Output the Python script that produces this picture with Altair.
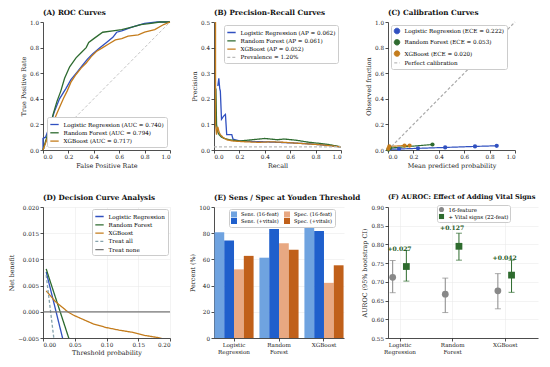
import altair as alt
import pandas as pd

# ------------------------------------------------------------------ data
MODELS = ["Logistic Regression", "Random Forest", "XGBoost"]
AUC_LABELS = ["0.740", "0.794", "0.717"]
AP_LABELS = ["0.062", "0.061", "0.052"]
ECE_LABELS = ["0.222", "0.053", "0.020"]
PREVALENCE = 0.012
PREV_LABEL = "Prevalence = 1.20%"

# (A) ROC
LR_FPR = [0, 0, 0.02, 0.05, 0.09, 0.13, 0.18, 0.22, 0.27, 0.31, 0.35, 0.39, 0.45, 0.50, 0.55, 0.58, 0.62, 0.70, 0.80, 0.90, 1.0]
LR_TPR = [0, 0.09, 0.10, 0.18, 0.30, 0.40, 0.48, 0.55, 0.61, 0.66, 0.71, 0.75, 0.80, 0.84, 0.88, 0.92, 0.93, 0.96, 0.99, 1.0, 1.0]
RF_FPR = [0, 0.03, 0.06, 0.08, 0.11, 0.14, 0.17, 0.21, 0.26, 0.30, 0.34, 0.36, 0.40, 0.47, 0.55, 0.62, 0.70, 0.77, 0.85, 0.92, 1.0]
RF_TPR = [0, 0.10, 0.20, 0.28, 0.38, 0.46, 0.56, 0.65, 0.72, 0.76, 0.80, 0.84, 0.87, 0.92, 0.93, 0.94, 0.96, 0.98, 0.99, 1.0, 1.0]
XGB_FPR = [0, 0.03, 0.06, 0.09, 0.12, 0.16, 0.19, 0.22, 0.26, 0.30, 0.34, 0.38, 0.42, 0.47, 0.52, 0.57, 0.62, 0.67, 0.75, 0.80, 0.88, 0.95, 1.0]
XGB_TPR = [0, 0.08, 0.16, 0.24, 0.31, 0.40, 0.46, 0.53, 0.59, 0.64, 0.68, 0.73, 0.77, 0.80, 0.83, 0.86, 0.87, 0.89, 0.90, 0.92, 0.94, 0.98, 1.0]

# (B) Precision-recall
LR_REC = [0.03, 0.038, 0.045, 0.05, 0.059, 0.077, 0.09, 0.10, 0.12, 0.14, 0.15, 0.20, 0.30, 0.40, 0.50, 0.60, 0.75, 0.90, 1.0]
LR_PREC = [0.25, 0.28, 0.24, 0.23, 0.12, 0.133, 0.139, 0.06, 0.06, 0.06, 0.042, 0.036, 0.033, 0.032, 0.030, 0.028, 0.024, 0.018, 0.012]
RF_REC = [0.01, 0.015, 0.02, 0.03, 0.04, 0.06, 0.08, 0.12, 0.20, 0.30, 0.40, 0.50, 0.55, 0.65, 0.75, 0.85, 0.92, 1.0]
RF_PREC = [0.20, 0.24, 0.10, 0.07, 0.06, 0.05, 0.045, 0.04, 0.035, 0.040, 0.045, 0.040, 0.043, 0.038, 0.030, 0.025, 0.020, 0.012]
XGB_REC = [0.012, 0.012, 0.02, 0.025, 0.03, 0.04, 0.05, 0.07, 0.10, 0.15, 0.25, 0.35, 0.45, 0.55, 0.70, 0.85, 1.0]
XGB_PREC = [0.50, 0.10, 0.06, 0.08, 0.09, 0.07, 0.06, 0.05, 0.04, 0.035, 0.032, 0.030, 0.032, 0.030, 0.025, 0.020, 0.012]

# (C) Calibration
LR_PRED = [0.01, 0.087, 0.236, 0.45, 0.685, 0.856]
LR_OBS = [0.006, 0.008, 0.013, 0.020, 0.028, 0.033]
RF_PRED = [0.003, 0.015, 0.35]
RF_OBS = [0.003, 0.015, 0.043]
XGB_PRED = [0.003, 0.01, 0.13, 0.17]
XGB_OBS = [0.010, 0.028, 0.035, 0.035]
PERFECT_LABEL = "Perfect calibration"

# (D) Decision curves
LR_THR = [0.005, 0.01, 0.02, 0.03, 0.035]
LR_NB = [0.0076, 0.0052, 0.0003, -0.0046, -0.0071]
RF_THR = [0.005, 0.01, 0.02, 0.03, 0.04, 0.045]
RF_NB = [0.0082, 0.0063, 0.0026, -0.0011, -0.0048, -0.0066]
XGB_THR = [0.005, 0.01, 0.019, 0.029, 0.039, 0.049, 0.064, 0.079, 0.0995, 0.12, 0.14, 0.16, 0.18, 0.19]
XGB_NB = [0.0040, 0.0033, 0.0020, 0.0010, 0.0000, -0.0007, -0.0015, -0.0023, -0.0030, -0.0035, -0.0039, -0.0045, -0.0049, -0.0052]
ALL_THR = [0.005, 0.01, 0.015, 0.02]
ALL_NB = [0.0070, 0.0020, -0.0030, -0.0080]
NONE_THR = [0.0, 0.2]
NONE_NB = [0.0, 0.0]

# (E) Sensitivity / specificity
E_METRICS = ["Sens. (16-feat)", "Sens. (+vitals)", "Spec. (16-feat)", "Spec. (+vitals)"]
SENS16 = [80.8, 61.3, 85.6]
SENSV = [74.5, 83.2, 81.7]
SPEC16 = [52.4, 72.4, 42.1]
SPECV = [62.7, 67.3, 55.5]

# (F) AUROC with CI
F_SERIES = ["16-feature", "+ Vital signs (22-feat)"]
AUC16 = [0.712, 0.667, 0.676]
LO16 = [0.671, 0.618, 0.628]
HI16 = [0.757, 0.710, 0.722]
AUC22 = [0.741, 0.795, 0.718]
LO22 = [0.702, 0.758, 0.672]
HI22 = [0.784, 0.830, 0.758]
DELTA_LABELS = ["+0.027", "+0.127", "+0.042"]
DELTA_Y = [0.788, 0.844, 0.765]

# ------------------------------------------------------------------ style
FONT = "DejaVu Serif"
C_LR, C_RF, C_XGB = "#3050c0", "#2e6b30", "#c47c1c"
MODEL_COLORS = [C_LR, C_RF, C_XGB]
W1, W2B, W2E, W3C, W3F = 127, 127, 130, 127, 150
H1, H2 = 128, 131
LEG_FS = 5.65


def leg(**kw):
    base = dict(title=None, fillColor="white", strokeColor="#cccccc", padding=2.5,
                cornerRadius=2, labelFontSize=LEG_FS, labelLimit=300, rowPadding=0.3,
                symbolStrokeWidth=1.3, symbolSize=70, labelFont=FONT, labelOffset=4)
    base.update(kw)
    return alt.Legend(**base)


def qx(field, dom, vals, fmt, title, grid=False, **kw):
    return alt.X(field, type="quantitative",
                 scale=alt.Scale(domain=dom, nice=False, zero=False),
                 axis=alt.Axis(values=vals, format=fmt, title=title, grid=grid, **kw))


def qy(field, dom, vals, fmt, title, grid=False):
    return alt.Y(field, type="quantitative",
                 scale=alt.Scale(domain=dom, nice=False, zero=False),
                 axis=alt.Axis(values=vals, format=fmt, title=title, grid=grid))


TICKS01 = [0, 0.2, 0.4, 0.6, 0.8, 1.0]


def long_df(key, labels, xs, ys, xname, yname):
    rows = []
    for lab, xv, yv in zip(labels, xs, ys):
        for i, (a, b) in enumerate(zip(xv, yv)):
            rows.append({key: lab, xname: a, yname: b, "i": i})
    return pd.DataFrame(rows)


# ------------------------------------------------------------------ (A)
roc_labels = [f"{m} (AUC = {a})" for m, a in zip(MODELS, AUC_LABELS)]
roc_df = long_df("roc", roc_labels, [LR_FPR, RF_FPR, XGB_FPR], [LR_TPR, RF_TPR, XGB_TPR], "fpr", "tpr")
diag_df = pd.DataFrame({"fpr": [0, 1], "tpr": [0, 1]})
xA = qx("fpr", [0, 1], TICKS01, ".1f", "False Positive Rate")
yA = qy("tpr", [0, 1], TICKS01, ".1f", "True Positive Rate")
A = alt.layer(
    alt.Chart(diag_df).mark_line(color="#aaaaaa", strokeDash=[3, 2], strokeWidth=0.7).encode(x=xA, y=yA),
    alt.Chart(roc_df).mark_line(strokeWidth=1.3).encode(
        x=xA, y=yA, order="i:Q",
        color=alt.Color("roc:N", scale=alt.Scale(domain=roc_labels, range=MODEL_COLORS),
                        legend=leg(orient="bottom-right", offset=3, symbolType="stroke"))),
).properties(width=W1, height=H1, title="(A) ROC Curves")

# ------------------------------------------------------------------ (B)
pr_labels = [f"{m} (AP = {a})" for m, a in zip(MODELS, AP_LABELS)] + [PREV_LABEL]
pr_df = long_df("pr", pr_labels, [LR_REC, RF_REC, XGB_REC, [0, 1]],
                [LR_PREC, RF_PREC, XGB_PREC, [PREVALENCE, PREVALENCE]], "rec", "prec")
legB = leg(orient="top-right", offset=3, symbolType="stroke")
B = alt.Chart(pr_df).mark_line(strokeWidth=1.3, clip=True).encode(
    x=qx("rec", [0, 1], TICKS01, ".1f", "Recall"),
    y=qy("prec", [0, 0.5], [0, 0.1, 0.2, 0.3, 0.4, 0.5], ".1f", "Precision"),
    order="i:Q",
    color=alt.Color("pr:N", scale=alt.Scale(domain=pr_labels, range=MODEL_COLORS + ["#bbbbbb"]), legend=legB),
    strokeDash=alt.StrokeDash("pr:N", scale=alt.Scale(domain=pr_labels, range=[[1, 0], [1, 0], [1, 0], [3, 2]]), legend=legB),
).properties(width=W2B, height=H1, title="(B) Precision-Recall Curves")

# ------------------------------------------------------------------ (C)
cal_labels = [f"{m} (ECE = {a})" for m, a in zip(MODELS, ECE_LABELS)] + [PERFECT_LABEL]
cal_df = long_df("cal", cal_labels, [LR_PRED, RF_PRED, XGB_PRED, [0, 1]],
                 [LR_OBS, RF_OBS, XGB_OBS, [0, 1]], "pred", "obs")
legC = leg(orient="top-left", offset=3, symbolSize=30, symbolStrokeWidth=1.0)
xC = qx("pred", [0, 1], TICKS01, ".1f", "Mean predicted probability")
yC = qy("obs", [0, 1], TICKS01, ".1f", "Observed fraction")
colC = alt.Color("cal:N", scale=alt.Scale(domain=cal_labels, range=MODEL_COLORS + ["#aaaaaa"]), legend=legC)
C = alt.layer(
    alt.Chart(cal_df).mark_line(strokeWidth=1.2).encode(
        x=xC, y=yC, order="i:Q", color=colC,
        strokeDash=alt.StrokeDash("cal:N", scale=alt.Scale(domain=cal_labels, range=[[1, 0], [1, 0], [1, 0], [3, 2]]), legend=legC)),
    alt.Chart(cal_df).transform_filter(alt.datum.cal != PERFECT_LABEL).mark_point(filled=True, opacity=1, size=18).encode(
        x=xC, y=yC, color=colC,
        shape=alt.Shape("cal:N", scale=alt.Scale(domain=cal_labels, range=["circle", "circle", "circle", "stroke"]), legend=legC)),
).properties(width=W3C, height=H1, title="(C) Calibration Curves")

# ------------------------------------------------------------------ (D)
dca_labels = MODELS + ["Treat all", "Treat none"]
dca_df = long_df("dca", dca_labels, [LR_THR, RF_THR, XGB_THR, ALL_THR, NONE_THR],
                 [LR_NB, RF_NB, XGB_NB, ALL_NB, NONE_NB], "thr", "nb")
legD = leg(orient="top-right", offset=2, symbolType="stroke")
D = alt.Chart(dca_df).mark_line(strokeWidth=1.3, clip=True).encode(
    x=qx("thr", [0, 0.2], [0, 0.05, 0.10, 0.15, 0.20], ".2f", "Threshold probability", grid=True, titlePadding=2),
    y=qy("nb", [-0.005, 0.02], [-0.005, 0, 0.005, 0.01, 0.015, 0.02], ".3f", "Net benefit", grid=True),
    order="i:Q",
    color=alt.Color("dca:N", scale=alt.Scale(domain=dca_labels, range=MODEL_COLORS + ["#86a3ad", "#777777"]), legend=legD),
    strokeDash=alt.StrokeDash("dca:N", scale=alt.Scale(domain=dca_labels, range=[[1, 0], [1, 0], [1, 0], [3, 2], [1, 0]]), legend=legD),
).properties(width=W1, height=H2, title="(D) Decision Curve Analysis")

# ------------------------------------------------------------------ (E)
e_rows = []
for mi, m in enumerate(MODELS):
    for metric, vals in zip(E_METRICS, [SENS16, SENSV, SPEC16, SPECV]):
        e_rows.append({"model": m, "metric": metric, "value": vals[mi]})
e_df = pd.DataFrame(e_rows)
E = alt.Chart(e_df).mark_bar().encode(
    x=alt.X("model:N", sort=MODELS, scale=alt.Scale(paddingInner=0.13, paddingOuter=0.01),
            axis=alt.Axis(title=None, labelAngle=0, labelExpr="split(datum.label, ' ')", labelLineHeight=6.8)),
    xOffset=alt.XOffset("metric:N", scale=alt.Scale(domain=E_METRICS, paddingInner=0, paddingOuter=0)),
    y=alt.Y("value:Q", scale=alt.Scale(domain=[0, 100], nice=False),
            axis=alt.Axis(values=[0, 20, 40, 60, 80, 100], format="d", title="Percent (%)")),
    color=alt.Color("metric:N",
                    scale=alt.Scale(domain=E_METRICS,
                                    range=["#6fa3e0", "#1f5fcc", "#e8a882", "#c0601a"]),
                    legend=leg(orient="none", legendX=15, legendY=2, columns=2, columnPadding=5,
                               labelFontSize=5.1, symbolSize=36, symbolType="square", symbolStrokeWidth=0,
                               padding=2, rowPadding=0)),
).properties(width=W2E, height=H2, title="(E) Sens / Spec at Youden Threshold")

# ------------------------------------------------------------------ (F)
f_rows = []
for mi, m in enumerate(MODELS):
    f_rows.append({"idx": mi, "series": F_SERIES[0], "auc": AUC16[mi], "lo": LO16[mi], "hi": HI16[mi]})
    f_rows.append({"idx": mi, "series": F_SERIES[1], "auc": AUC22[mi], "lo": LO22[mi], "hi": HI22[mi]})
f_df = pd.DataFrame(f_rows)
ann_df = pd.DataFrame({"idx": [0, 1, 2], "auc": DELTA_Y, "label": DELTA_LABELS})

label_expr = " : ".join(
    f"datum.value == {i} ? {str(m.split(' ')) if ' ' in m else repr(m)}" for i, m in enumerate(MODELS[:-1])
) + f" : '{MODELS[-1]}'"
F_XSCALE = alt.Scale(domain=[-0.219, 2.633], nice=False, zero=False)
F_XAXIS = alt.Axis(values=[0, 1, 2], title=None, labelExpr=label_expr, labelLineHeight=6.8)
F_YSCALE = alt.Scale(domain=[0.55, 0.90], nice=False, zero=False)
F_YAXIS = alt.Axis(values=[0.55, 0.60, 0.65, 0.70, 0.75, 0.80, 0.85, 0.90], format=".2f",
                   title="AUROC (95% bootstrap CI)")


def fx(field):
    return alt.X(field, type="quantitative", scale=F_XSCALE, axis=F_XAXIS)


def fy(field):
    return alt.Y(field, type="quantitative", scale=F_YSCALE, axis=F_YAXIS)


fbase = alt.Chart(f_df).transform_calculate(
    pos=f"datum.idx + (datum.series == '{F_SERIES[0]}' ? -0.13 : 0.13)")


def ci_layers(series, color):
    b = fbase.transform_filter(alt.datum.series == series)
    return [
        b.mark_rule(color=color, strokeWidth=1).encode(x=fx("pos"), y=fy("lo"), y2="hi:Q"),
        b.mark_tick(color=color, orient="horizontal", size=6, thickness=1).encode(x=fx("pos"), y=fy("lo")),
        b.mark_tick(color=color, orient="horizontal", size=6, thickness=1).encode(x=fx("pos"), y=fy("hi")),
    ]


legF = leg(orient="none", legendX=49, legendY=-2, symbolSize=26, symbolStrokeWidth=0.6, padding=1.5,
           rowPadding=0, labelFontSize=5.4)
F = alt.layer(
    *ci_layers(F_SERIES[0], "#888888"),
    *ci_layers(F_SERIES[1], "#2e6b2e"),
    fbase.mark_point(filled=True, opacity=1, size=46).encode(
        x=fx("pos"), y=fy("auc"),
        color=alt.Color("series:N", scale=alt.Scale(domain=F_SERIES, range=["#888888", "#2e6b2e"]), legend=legF),
        shape=alt.Shape("series:N", scale=alt.Scale(domain=F_SERIES, range=["circle", "square"]), legend=legF)),
    alt.Chart(ann_df).mark_text(fontWeight="bold", color="#1f5a1f", fontSize=6.1, font=FONT).encode(
        x=fx("idx"), y=fy("auc"), text="label:N"),
).properties(width=W3F, height=H2,
             title=alt.TitleParams("(F) AUROC: Effect of Adding Vital Signs", fontSize=6.6))

# ------------------------------------------------------------------ layout
chart = alt.concat(
    A, B, C, D, E, F, columns=3, spacing={"row": 57, "column": 44}, bounds="flush", align="each"
).resolve_scale(
    color="independent", shape="independent", strokeDash="independent"
).resolve_legend(
    color="independent", shape="independent", strokeDash="independent"
).properties(
    padding={"left": 0, "top": 0, "right": 0, "bottom": 0}
).configure(font=FONT).configure_view(stroke="transparent").configure_axis(
    labelFont=FONT, titleFont=FONT, labelFontSize=5.65, titleFontSize=6.4, titleFontWeight="normal",
    labelColor="#222222", titleColor="#222222", tickColor="#222222", domainColor="#222222",
    domainWidth=0.8, tickWidth=0.8, tickSize=3, labelPadding=1.5, titlePadding=3,
    gridColor="#e6e6e6", gridWidth=0.5,
).configure_title(
    font=FONT, fontSize=7.2, fontWeight="bold", anchor="start", frame="group", offset=3, color="#111111"
)

chart.save("out.html", embed_options={"renderer": "svg", "actions": False})
